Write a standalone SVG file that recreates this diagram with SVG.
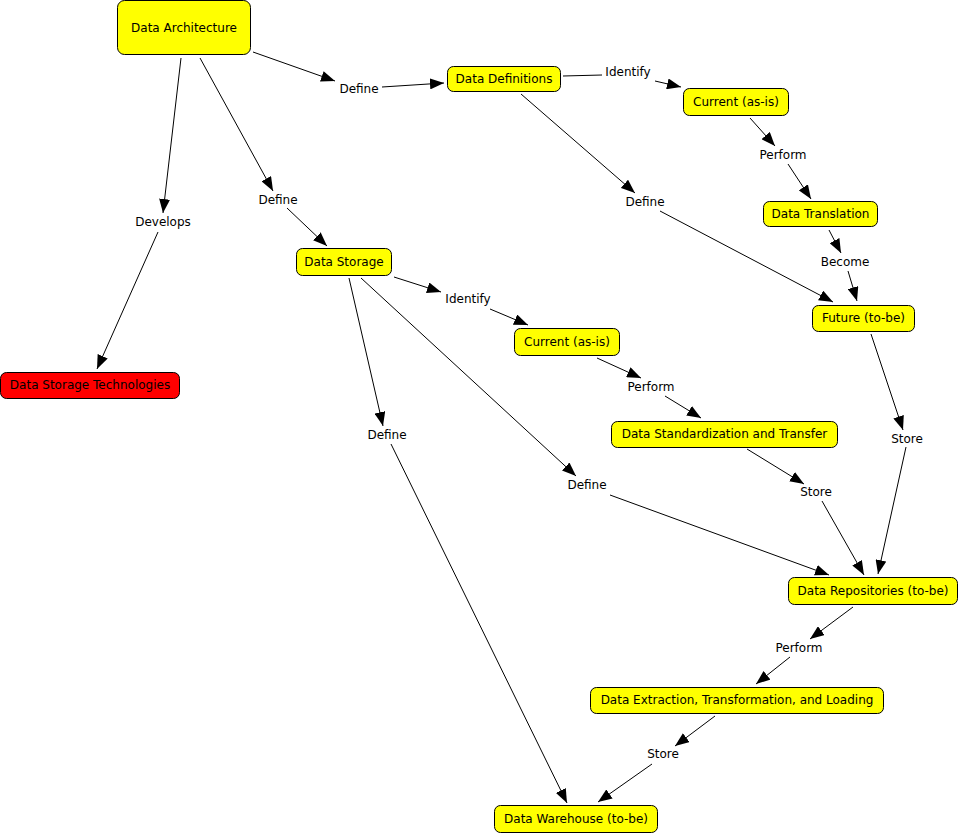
<svg xmlns="http://www.w3.org/2000/svg" width="960" height="835" viewBox="0 0 960 835">
<style>
.n rect{fill:#ffff00;stroke:#000;stroke-width:1}
.n.red rect{fill:#ff0000}
text{font-family:"DejaVu Sans",Verdana,sans-serif;font-size:12px;fill:#000;text-anchor:middle}
#connectors line{stroke:#000;stroke-width:1}
#connectors line.a{marker-end:url(#ah)}
.lbl text{fill:#000}
</style>
<defs>
<marker id="ah" markerUnits="userSpaceOnUse" markerWidth="14" markerHeight="11" refX="14" refY="5.5" orient="auto">
<path d="M0,0 L14,5.5 L0,11 z" fill="#000"/>
</marker>
</defs>
<rect width="960" height="835" fill="#fff"/>
<g id="connectors">
<line class="a" x1="253" y1="52" x2="335" y2="81"/>
<line class="a" x1="382" y1="87" x2="444" y2="83"/>
<line class="a" x1="181" y1="58" x2="163" y2="213"/>
<line class="a" x1="158" y1="232" x2="97" y2="369"/>
<line class="a" x1="200" y1="58" x2="273" y2="191"/>
<line class="a" x1="287" y1="208" x2="327" y2="246"/>
<line x1="563" y1="76" x2="602" y2="75"/>
<line class="a" x1="655" y1="81" x2="681" y2="87"/>
<line class="a" x1="521" y1="94" x2="635" y2="193"/>
<line class="a" x1="660" y1="211" x2="833" y2="302"/>
<line class="a" x1="750" y1="118" x2="775" y2="146"/>
<line class="a" x1="788" y1="164" x2="811" y2="199"/>
<line class="a" x1="829" y1="230" x2="841" y2="253"/>
<line class="a" x1="848" y1="271" x2="857" y2="301"/>
<line class="a" x1="394" y1="277" x2="441" y2="292"/>
<line class="a" x1="490" y1="309" x2="528" y2="325"/>
<line class="a" x1="349" y1="278" x2="383" y2="426"/>
<line class="a" x1="391" y1="444" x2="567" y2="803"/>
<line class="a" x1="361" y1="278" x2="576" y2="476"/>
<line class="a" x1="610" y1="495" x2="829" y2="575"/>
<line class="a" x1="597" y1="358" x2="641" y2="378"/>
<line class="a" x1="665" y1="396" x2="701" y2="418"/>
<line class="a" x1="747" y1="449" x2="804" y2="484"/>
<line class="a" x1="822" y1="501" x2="864" y2="575"/>
<line class="a" x1="871" y1="334" x2="903" y2="430"/>
<line class="a" x1="906" y1="447" x2="878" y2="574"/>
<line class="a" x1="853" y1="607" x2="810" y2="639"/>
<line class="a" x1="790" y1="657" x2="756" y2="684"/>
<line class="a" x1="715" y1="716" x2="675" y2="746"/>
<line class="a" x1="652" y1="764" x2="598" y2="802"/>
</g>
<g id="labels" class="lbl">
<text x="359" y="93">Define</text>
<text x="628" y="76">Identify</text>
<text x="163" y="226">Develops</text>
<text x="278" y="204">Define</text>
<text x="783" y="159">Perform</text>
<text x="645" y="206">Define</text>
<text x="845" y="266">Become</text>
<text x="468" y="303">Identify</text>
<text x="651" y="391">Perform</text>
<text x="387" y="439">Define</text>
<text x="907" y="443">Store</text>
<text x="816" y="496">Store</text>
<text x="587" y="489">Define</text>
<text x="799" y="652">Perform</text>
<text x="663" y="758">Store</text>
</g>
<g id="n-data-architecture" class="n"><rect x="117.5" y="0.5" width="133" height="54" rx="7"/><text x="184" y="32">Data Architecture</text></g>
<g id="n-data-definitions" class="n"><rect x="447.5" y="66.5" width="113" height="25" rx="6"/><text x="504" y="83">Data Definitions</text></g>
<g id="n-current-1" class="n"><rect x="683.5" y="88.5" width="105" height="27" rx="6"/><text x="736" y="106">Current (as-is)</text></g>
<g id="n-data-translation" class="n"><rect x="763.5" y="201.5" width="114" height="25" rx="6"/><text x="820.5" y="218">Data Translation</text></g>
<g id="n-future" class="n"><rect x="812.5" y="305.5" width="102" height="26" rx="6"/><text x="863.5" y="322">Future (to-be)</text></g>
<g id="n-data-storage" class="n"><rect x="296.5" y="248.5" width="95" height="27" rx="6"/><text x="344" y="266">Data Storage</text></g>
<g id="n-current-2" class="n"><rect x="514.5" y="328.5" width="105" height="27" rx="6"/><text x="567" y="346">Current (as-is)</text></g>
<g id="n-dst" class="n red"><rect x="0.5" y="372.5" width="179" height="26" rx="6"/><text x="90" y="389">Data Storage Technologies</text></g>
<g id="n-dsat" class="n"><rect x="611.5" y="421.5" width="226" height="26" rx="6"/><text x="724.5" y="438">Data Standardization and Transfer</text></g>
<g id="n-repos" class="n"><rect x="788.5" y="577.5" width="169" height="27" rx="6"/><text x="873" y="595">Data Repositories (to-be)</text></g>
<g id="n-etl" class="n"><rect x="590.5" y="687.5" width="293" height="26" rx="6"/><text x="737" y="704">Data Extraction, Transformation, and Loading</text></g>
<g id="n-warehouse" class="n"><rect x="494.5" y="805.5" width="163" height="27" rx="6"/><text x="576" y="823">Data Warehouse (to-be)</text></g>
</svg>
